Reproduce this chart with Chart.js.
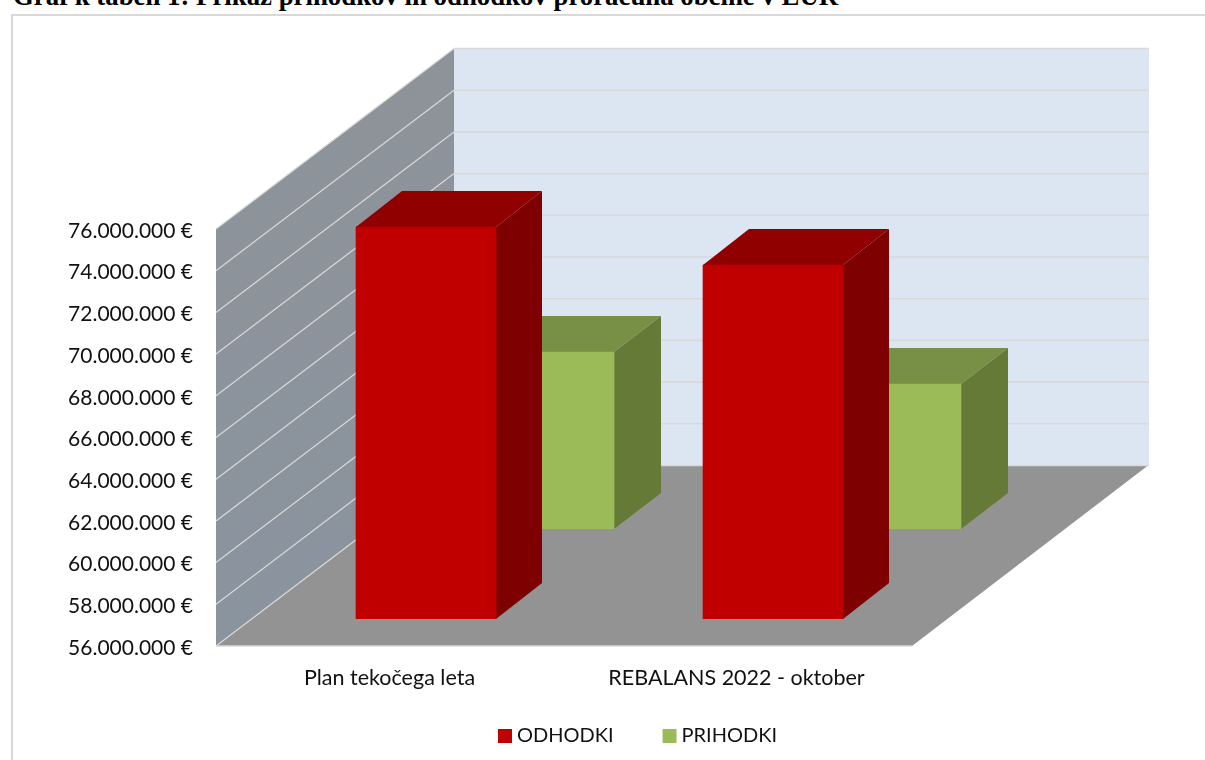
<!DOCTYPE html>
<html lang="sl">
<head>
<meta charset="utf-8">
<title>Graf k tabeli 1</title>
<script src="https://cdn.jsdelivr.net/npm/chart.js@4"></script>
<style>
    html, body { margin: 0; padding: 0; background: #fff; overflow: hidden; }
    #page { position: relative; width: 1205px; height: 760px; overflow: hidden; }
    #naslov {
        position: absolute; left: 13px; top: -19px; white-space: nowrap;
        font: bold 26.8px "Liberation Serif", serif; line-height: 30px; color: #000;
    }
    #okvir {
        position: absolute; left: 11px; top: 14px; width: 1300px; height: 900px;
        border: 2px solid #d9d9d9;
    }
    #graf { position: absolute; left: 0; top: 0; }
</style>
</head>
<body>
<div id="page">
    <div id="naslov">Graf k tabeli 1: Prikaz prihodkov in odhodkov proračuna občine v EUR</div>
    <div id="okvir"></div>
    <canvas id="graf" width="1205" height="760"></canvas>
</div>
<script>
// podatki
const categories = ['Plan tekočega leta', 'REBALANS 2022 - oktober'];
const odhodki = [74800000, 72980000];
const prihodki = [64490000, 62950000];
const yMin = 56000000;
const yMax = 76000000;
const yStep = 2000000;

// barve stolpcev: sprednja, zgornja in stranska ploskev
const barve = [
    { front: '#c00000', top: '#900000', side: '#7e0000', shiftX: 36.5, shiftY: -27, depthX: 46 },
    { front: '#9bbb59', top: '#789045', side: '#667a38', shiftX: 154.5, shiftY: -117, depthX: 47 }
];
const barDepthY = -36;
const wallDepthX = 238;
const wallDepthY = -180.5;
const gridColor = '#d9d9d9';

function poly(ctx, points, fill) {
    ctx.beginPath();
    ctx.moveTo(points[0][0], points[0][1]);
    for (let i = 1; i < points.length; i++) ctx.lineTo(points[i][0], points[i][1]);
    ctx.closePath();
    ctx.fillStyle = fill;
    ctx.fill();
}

function line(ctx, x1, y1, x2, y2, width) {
    ctx.beginPath();
    ctx.moveTo(x1, y1);
    ctx.lineTo(x2, y2);
    ctx.lineWidth = width;
    ctx.strokeStyle = gridColor;
    ctx.stroke();
}

// stene in tla 3D grafa
const walls3d = {
    id: 'walls3d',
    afterLayout(chart) {
        // legenda ni na sredini platna
        const legend = chart.legend;
        legend.left = 640 - legend.width / 2;
        legend.right = legend.left + legend.width;
        legend.top = 672;
    },
    beforeDatasetsDraw(chart) {
        const ctx = chart.ctx;
        const { left, right, top, bottom } = chart.chartArea;
        const dx = wallDepthX;
        const dy = wallDepthY;
        const backRight = right + dx + 1;
        ctx.save();

        const wallFill = ctx.createLinearGradient(0, top + dy, 0, bottom);
        wallFill.addColorStop(0, '#8e9399');
        wallFill.addColorStop(1, '#8a949f');
        poly(ctx, [[left, top], [left + dx, top + dy], [left + dx, bottom + dy], [left, bottom]], wallFill);
        poly(ctx, [[left + dx, top + dy], [backRight, top + dy], [backRight, bottom + dy], [left + dx, bottom + dy]], '#dce6f2');
        poly(ctx, [[left, bottom], [left + dx, bottom + dy], [right + dx, bottom + dy], [right + 2, bottom]], '#939393');

        chart.scales.y.ticks.forEach((tick) => {
            const y = chart.scales.y.getPixelForValue(tick.value);
            line(ctx, left, y, left + dx, y + dy, 1.2);
            line(ctx, left + dx, y + dy, backRight, y + dy, 1.6);
        });
        line(ctx, left, bottom, right + 2, bottom, 1.5);
        ctx.restore();
    },
    beforeDatasetDraw(chart, args) {
        const ctx = chart.ctx;
        const b = barve[args.index];
        ctx.save();
        ctx.translate(b.shiftX, b.shiftY);
        args.meta.data.forEach((bar) => {
            const l = bar.x - bar.width / 2;
            const r = bar.x + bar.width / 2;
            poly(ctx, [[l, bar.y], [l + b.depthX, bar.y + barDepthY], [r + b.depthX, bar.y + barDepthY], [r, bar.y]], b.top);
            poly(ctx, [[r, bar.y], [r + b.depthX, bar.y + barDepthY], [r + b.depthX, bar.base + barDepthY], [r, bar.base]], b.side);
        });
    },
    afterDatasetDraw(chart) {
        chart.ctx.restore();
    }
};

const yFont = { family: 'Lato', size: 21 };
const xFont = { family: 'Lato', size: 21.5 };
const legendFont = { family: 'Lato', size: 20 };

new Chart(document.getElementById('graf'), {
    type: 'bar',
    data: {
        labels: categories,
        datasets: [
            { label: 'ODHODKI', data: odhodki, backgroundColor: barve[0].front, grouped: false, barThickness: 140, base: yMin },
            { label: 'PRIHODKI', data: prihodki, backgroundColor: barve[1].front, grouped: false, barThickness: 140, base: yMin }
        ]
    },
    options: {
        responsive: false,
        animation: false,
        layout: { padding: { top: 229, left: 20, right: 295, bottom: -30 } },
        scales: {
            x: {
                grid: { display: false, drawTicks: false },
                border: { display: false },
                ticks: { font: xFont, color: '#111', padding: 19, maxRotation: 0, autoSkip: false },
                afterFit(scale) { scale.height = 60; }
            },
            y: {
                min: yMin,
                max: yMax,
                grid: { display: false, drawTicks: false },
                border: { display: false },
                ticks: {
                    stepSize: yStep,
                    font: yFont,
                    color: '#111',
                    padding: 23,
                    labelOffset: 2,
                    callback: (v) => String(v).replace(/\B(?=(\d{3})+$)/g, '.') + ' €'
                },
                afterFit(scale) { scale.width = 196; }
            }
        },
        plugins: {
            tooltip: { enabled: false },
            legend: {
                position: 'bottom',
                labels: {
                    font: legendFont,
                    color: '#111',
                    usePointStyle: true,
                    pointStyle: 'rect',
                    boxWidth: 4,
                    boxHeight: 14,
                    padding: 54
                }
            }
        }
    },
    plugins: [walls3d]
});
</script>
</body>
</html>
